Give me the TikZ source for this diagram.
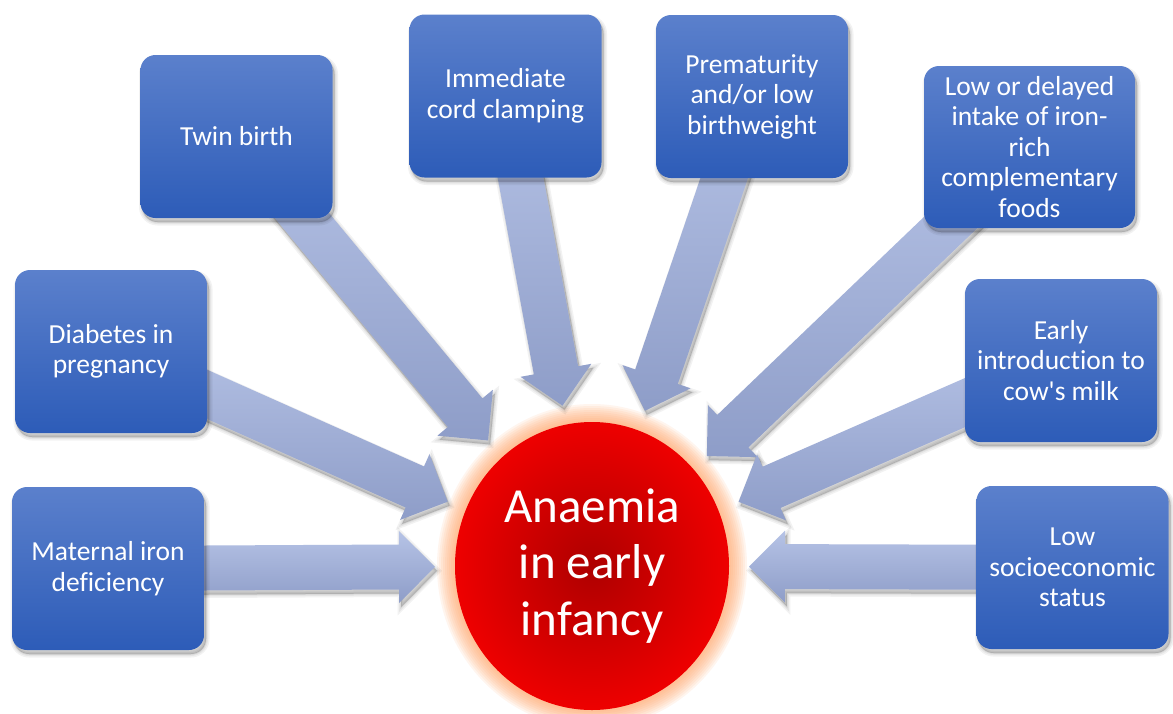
\documentclass[tikz,border=0pt]{standalone}
\usepackage{fontspec}
\setmainfont{Carlito}[Ligatures=NoCommon]
\usetikzlibrary{calc,shapes.geometric}
\definecolor{boxtop}{HTML}{5B80CC}
\definecolor{boxbot}{HTML}{2D5CB8}
\definecolor{arrtop}{HTML}{B6C3E6}
\definecolor{arrbot}{HTML}{8E9DC8}
\definecolor{redin}{HTML}{AE0000}
\definecolor{redout}{HTML}{EE0000}
\definecolor{glowc}{HTML}{FFA466}
\tikzset{
  softshadow/.style={
    preaction={fill=black, fill opacity=0.05, draw=black, draw opacity=0.05, line width=7pt, transform canvas={shift={(2,4)}}},
    preaction={fill=black, fill opacity=0.05, draw=black, draw opacity=0.05, line width=4pt, transform canvas={shift={(2,4)}}},
    preaction={fill=black, fill opacity=0.07, draw=black, draw opacity=0.07, line width=1.5pt, transform canvas={shift={(2,4)}}}},
  factor/.style={softshadow, rounded corners=15pt, top color=boxtop, bottom color=boxbot,
    text=white, align=center, font=\fontsize{27.5}{30.5}\selectfont,
    minimum width=192pt, minimum height=163pt, inner sep=2pt},
  bigarrow/.style={softshadow, top color=arrtop, bottom color=arrbot},
  centre/.style={ellipse, minimum width=274pt, minimum height=288pt, inner sep=0pt,
    inner color=redin, outer color=redout, text=white, align=center,
    font=\fontsize{49}{56.5}\selectfont}
}
\newcommand\blockarrow[2]{%
  \coordinate (bt) at ($(c.center)!#2pt!(#1)$);
  \coordinate (bh) at ($(bt)!36pt!(#1)$);
  \path[bigarrow] ($(#1)!22.5pt!90:(bt)$) -- ($(bh)!22.5pt!-90:(#1)$)
    -- ($(bh)!36pt!-90:(#1)$) -- (bt) -- ($(bh)!36pt!90:(#1)$)
    -- ($(bh)!22.5pt!90:(#1)$) -- ($(#1)!22.5pt!-90:(bt)$) -- cycle;
}
\begin{document}
\begin{tikzpicture}[x=1pt,y=-1pt]
\fill[white] (0,0) rectangle (1173,713);
\useasboundingbox (0,0) rectangle (1173,713);
% box positions
\coordinate (mat) at (108,568.5);
\coordinate (dia) at (111,351.5);
\coordinate (twin) at (236.5,136.5);
\coordinate (imm) at (505.5,96);
\coordinate (pre) at (752,96.5);
\coordinate (low) at (1029.5,147);
\coordinate (ear) at (1061,360.5);
\coordinate (soc) at (1072.5,567.5);
% centre with glow
\coordinate (cc) at (592,566);
\foreach \r in {18,16,...,2}
  \fill[glowc, opacity=0.11] (cc) ellipse [x radius={137pt+\r pt}, y radius={144pt+\r pt}];
\node[centre] (c) at (cc) {Anaemia\\in early\\infancy};
% arrows
\blockarrow{mat}{157}
\blockarrow{dia}{158}
\blockarrow{twin}{163}
\blockarrow{imm}{163}
\blockarrow{pre}{164}
\blockarrow{low}{159}
\blockarrow{ear}{160}
\blockarrow{soc}{157}
% boxes
\node[factor] (matbox) at (mat) {Maternal iron\\deficiency};
\node[factor] (diabox) at (dia) {Diabetes in\\pregnancy};
\node[factor] (twinbox) at (twin) {Twin birth};
\node[factor] (immbox) at (imm) {Immediate\\cord clamping};
\node[factor] (prebox) at (pre) {Prematurity\\and/or low\\birthweight};
\node[factor, minimum width=211pt, minimum height=162pt] (lowbox) at (low) {Low or delayed\\intake of iron-\\rich\\complementary\\foods};
\node[factor] (earbox) at (ear) {Early\\introduction to\\cow\textquotesingle s milk};
\node[factor] (socbox) at (soc) {Low\\socioeconomic\\status};
\end{tikzpicture}
\end{document}
